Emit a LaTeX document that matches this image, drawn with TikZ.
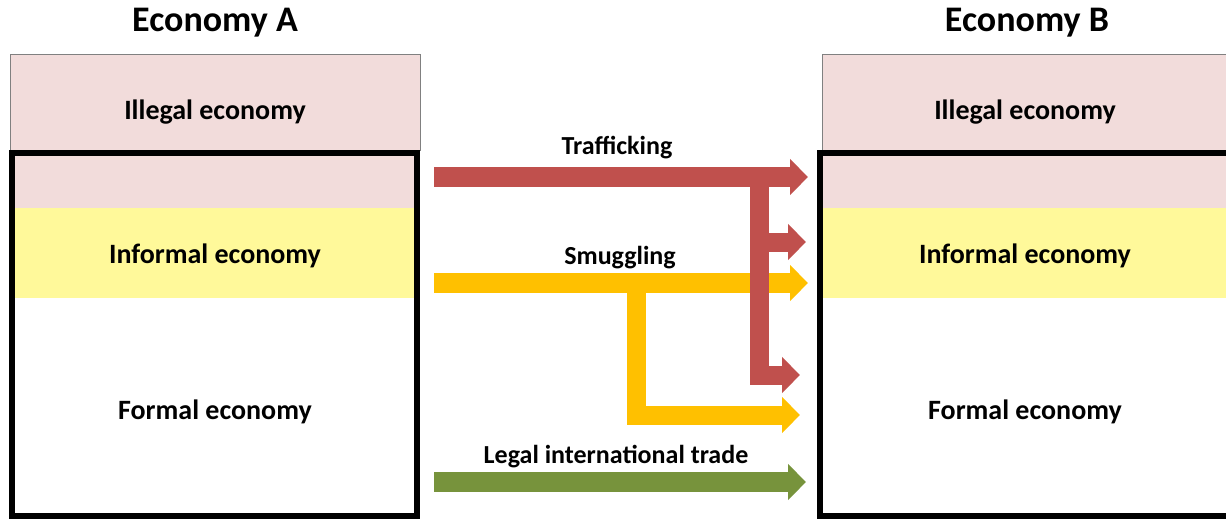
\documentclass[tikz,border=0pt]{standalone}
\usepackage{fontspec}
\setmainfont{Carlito}
\usetikzlibrary{positioning,arrows.meta}
\definecolor{illegalpink}{HTML}{F2DCDB}
\definecolor{informalyellow}{HTML}{FFF99A}
\definecolor{trafred}{HTML}{C0504D}
\definecolor{smugyellow}{HTML}{FFC000}
\definecolor{legalgreen}{HTML}{77933C}

\begin{document}
\begin{tikzpicture}[x=0.5pt,y=-0.5pt,
	band/.style={rectangle,inner sep=0pt,outer sep=0pt},
	frame/.style={band,draw=black,line width=3pt},
	title/.style={font=\bfseries\fontsize{18}{21}\selectfont},
	sector/.style={font=\bfseries\fontsize{14}{17}\selectfont},
	flowlabel/.style={font=\bfseries\fontsize{13}{16}\selectfont},
	flow/.style={line width=10pt,line join=miter,-{Triangle[length=9pt,width=17.5pt]}},
	branch/.style={flow,line width=9.5pt}]
		\useasboundingbox (0,0) rectangle (1226,520);
		\tikzstyle{every node}+=[inner sep=0pt]
		% Economy A
		\node[band,fill=illegalpink,draw=gray,line width=0.5pt,minimum width=205pt,minimum height=48pt] (illA) at (215,102) {};
		\node[band,fill=illegalpink,minimum width=203pt,minimum height=29pt] (grayA) at (214,179) {};
		\node[band,fill=informalyellow,minimum width=203pt,minimum height=45pt] (infA) at (214,253) {};
		\node[frame,minimum width=202.75pt,minimum height=181.5pt] (boxA) at (214.25,334.5) {};
		\node[title] (ecoA) at (215,23) {Economy A};
		\node[sector] (illtxtA) at (215,112) {Illegal economy};
		\node[sector] (inftxtA) at (215,256) {Informal economy};
		\node[sector] (fortxtA) at (215,412) {Formal economy};
		% Economy B
		\node[band,fill=illegalpink,draw=gray,line width=0.5pt,minimum width=205pt,minimum height=48pt] (illB) at (1027,102) {};
		\node[band,fill=illegalpink,minimum width=205pt,minimum height=29pt] (grayB) at (1027,179) {};
		\node[band,fill=informalyellow,minimum width=205pt,minimum height=45pt] (infB) at (1027,253) {};
		\node[frame,minimum width=206pt,minimum height=181.5pt] (boxB) at (1026,334.5) {};
		\node[title] (ecoB) at (1027,23) {Economy B};
		\node[sector] (illtxtB) at (1025,112) {Illegal economy};
		\node[sector] (inftxtB) at (1025,256) {Informal economy};
		\node[sector] (fortxtB) at (1025,412) {Formal economy};
		% flows
		\coordinate (trafS) at (434,177);
		\coordinate (trafE) at (808,177);
		\coordinate (trafK) at (759,177);
		\coordinate (trafI) at (806,242);
		\coordinate (trafF) at (800,375);
		\coordinate (smugS) at (434,283);
		\coordinate (smugE) at (808,283);
		\coordinate (smugK) at (636,283);
		\coordinate (smugF) at (800,415);
		\coordinate (legS) at (434,482);
		\coordinate (legE) at (806,482);
		\draw[flow,smugyellow] (smugS) -- (smugE);
		\draw[branch,smugyellow] (smugK) |- (smugF);
		\draw[flow,legalgreen] (legS) -- (legE);
		\draw[flow,trafred] (trafS) -- (trafE);
		\draw[branch,trafred] (trafK) |- (trafF);
		\draw[branch,trafred] (trafK |- trafI) -- (trafI);
		\node[flowlabel] (traftxt) at (617,148) {Trafficking};
		\node[flowlabel] (smugtxt) at (620,258) {Smuggling};
		\node[flowlabel] (legtxt) at (616,457) {Legal international trade};
\end{tikzpicture}
\end{document}
